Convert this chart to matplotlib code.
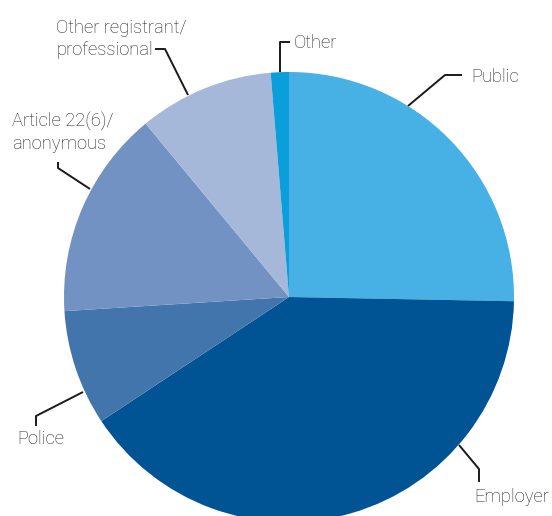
import matplotlib.pyplot as plt

# share of referrals by source (percent)
sources = ["Public", "Employer", "Police", "Article 22(6)/\nanonymous",
           "Other registrant/\nprofessional", "Other"]
shares = [25.3, 40.4, 8.3, 15.0, 9.7, 1.3]
colors = ["#47b0e4", "#005494", "#4375ad", "#7192c3", "#a5b8d9", "#0a9edb"]

W, H = 552, 516

fig = plt.figure(figsize=(W / 100, H / 100), dpi=100)
ax = fig.add_axes([0, 0, 1, 1])

ax.pie(shares, colors=colors, startangle=90, counterclock=False,
       center=(289, H - 297), radius=225, frame=True,
       wedgeprops=dict(linewidth=0))
ax.set_xlim(0, W)
ax.set_ylim(0, H)
ax.set_aspect("equal")
ax.axis("off")

# leader lines in pixel coords (y from top), and label anchors
leaders = [
    ([(408, 106), (445, 75), (462, 75)], (471, 77)),
    ([(459, 445), (479, 469), (479, 482)], (474, 497)),
    ([(83, 392), (36, 416), (36, 426)], (17, 439)),
    ([(90, 189), (58, 168), (58, 162)], (12, 132)),
    ([(188, 95), (165, 49), (155, 49)], (56, 39)),
    ([(280, 72), (280, 42), (290, 42)], (294, 43)),
]

for (pts, (tx, ty)), name in zip(leaders, sources):
    xs = [p[0] for p in pts]
    ys = [H - p[1] for p in pts]
    ax.plot(xs, ys, color="#1a1a1a", lw=1.4, solid_capstyle="butt")
    ax.text(tx, H - ty, name, ha="left", va="center", fontsize=13.2,
            family="Roboto", fontweight="light", color="#222222",
            linespacing=1.3)

fig.savefig("out.png", dpi=100)
